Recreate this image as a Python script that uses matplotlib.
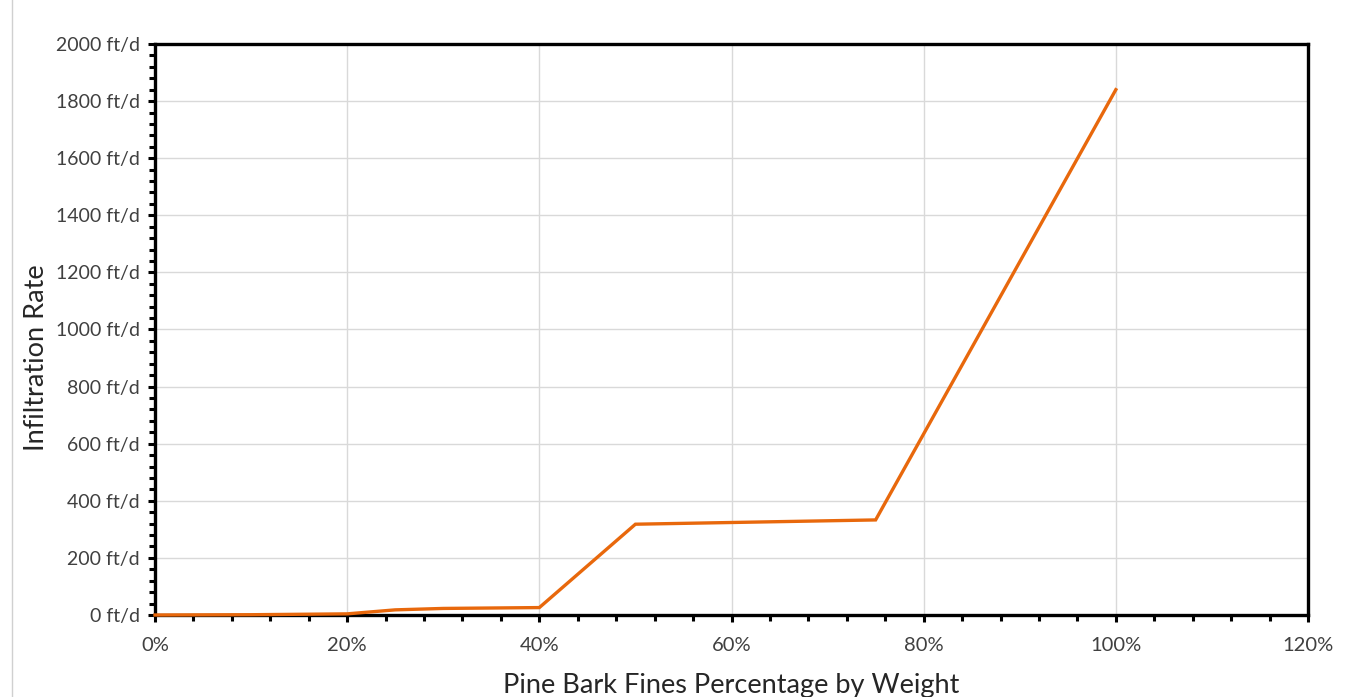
import matplotlib
matplotlib.use("Agg")
import matplotlib.pyplot as plt
from matplotlib.ticker import MultipleLocator, FuncFormatter
from matplotlib.lines import Line2D

pct = [0, 10, 20, 25, 30, 40, 50, 75, 100]
rate = [0, 1, 4, 18, 23, 26, 318, 333, 1840]

plt.rcParams['font.family'] = ['Lato', 'DejaVu Sans']

fig = plt.figure(figsize=(13.61, 6.97), dpi=100)
ax = fig.add_axes([155/1361, (697-615)/697, (1308-155)/1361, (615-44)/697])

ax.plot(pct, rate, color='#E8680C', lw=2.4, solid_joinstyle='miter', zorder=3, clip_on=False)

ax.set_xlim(0, 120)
ax.set_ylim(0, 2000)
ax.xaxis.set_major_locator(MultipleLocator(20))
ax.xaxis.set_minor_locator(MultipleLocator(4))
ax.yaxis.set_major_locator(MultipleLocator(200))
ax.yaxis.set_minor_locator(MultipleLocator(40))
ax.xaxis.set_major_formatter(FuncFormatter(lambda v, p: f"{v:.0f}%"))
ax.yaxis.set_major_formatter(FuncFormatter(lambda v, p: f"{v:.0f} ft/d"))

ax.grid(True, which='major', color='#D9D9D9', lw=1.0, zorder=0)
ax.set_axisbelow(True)
for s in ax.spines.values():
    s.set_linewidth(2.4)
    s.set_color('black')

ax.tick_params(axis='both', which='major', direction='out', length=5, width=2.2,
               color='black', labelsize=14, labelcolor='#404040')
ax.tick_params(axis='x', which='major', labelsize=14.5)
ax.tick_params(axis='both', which='minor', direction='out', length=4, width=2.2, color='black')
ax.tick_params(axis='x', which='major', pad=11)
ax.tick_params(axis='y', which='major', pad=6)

ax.set_xlabel('Pine Bark Fines Percentage by Weight', fontsize=19.5, color='#262626', va='center')
ax.set_ylabel('Infiltration Rate', fontsize=19.5, color='#262626', va='center')
ax.xaxis.set_label_coords(0.5, (615-685)/571)
ax.yaxis.set_label_coords((37-155)/1153, (615-358)/571)

fig.add_artist(Line2D([12/1361, 12/1361], [0, 1], transform=fig.transFigure, color='#D0D0D0', lw=1))

fig.savefig('out.png', dpi=100)
